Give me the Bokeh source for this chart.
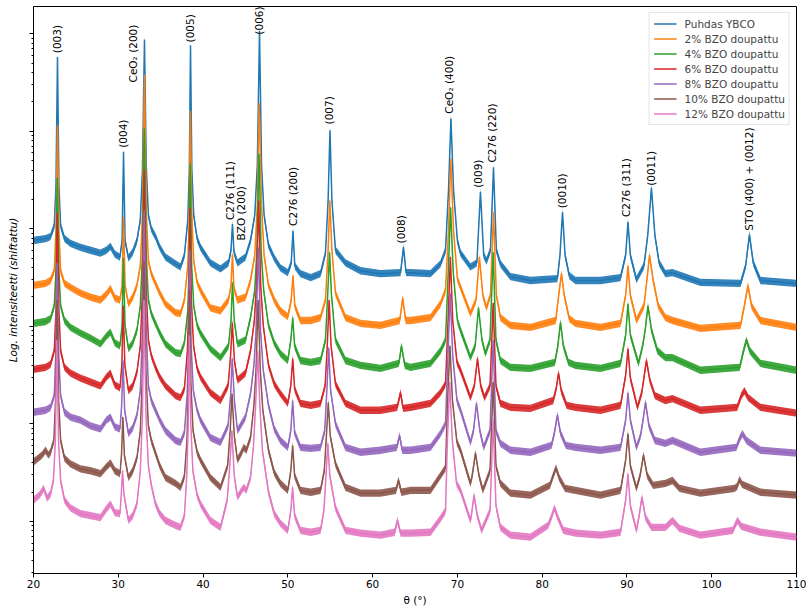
import numpy as np
from bokeh.plotting import figure
from bokeh.models import Range1d, FixedTicker, Legend, LegendItem
from bokeh.core.properties import value
from bokeh.embed import file_html
from bokeh.resources import INLINE

FONT = "DejaVu Sans"

# ---- data: 2-theta (deg) and log10 of shifted intensity ----
theta_0 = [20.0, 21.42, 22.0, 22.45, 22.65, 22.83, 23.0, 23.2, 23.66, 24.36, 25.54, 26.72, 27.9, 28.6, 29.08, 29.6, 30.2, 30.45, 30.62, 30.8, 31.2, 31.7, 32.2, 32.6, 32.85, 33.09, 33.3, 33.55, 33.9, 34.39, 34.9, 35.57, 36.75, 37.34, 37.8, 38.2, 38.38, 38.52, 38.68, 38.9, 39.3, 39.7, 40.87, 42.06, 43.0, 43.3, 43.47, 43.65, 44.06, 45.0, 45.6, 46.1, 46.4, 46.66, 46.9, 47.2, 47.72, 48.4, 49.13, 50.0, 50.4, 50.61, 50.82, 51.49, 52.7, 53.85, 54.44, 54.75, 54.97, 55.2, 55.62, 56.8, 58.57, 60.93, 63.3, 63.64, 63.95, 64.47, 66.83, 68.0, 68.6, 68.95, 69.24, 69.55, 70.0, 70.37, 71.54, 72.3, 72.72, 73.1, 73.43, 73.9, 74.26, 74.6, 75.08, 76.26, 78.62, 81.8, 82.1, 82.4, 82.7, 83.2, 83.93, 86.88, 89.24, 89.85, 90.12, 90.4, 91.12, 92.0, 92.45, 92.89, 93.3, 93.8, 94.54, 95.37, 98.67, 103.4, 104.0, 104.45, 104.9, 105.75, 110.0]
logI_0 = [2.88, 2.90, 2.92, 3.03, 3.44, 4.76, 3.44, 3.03, 2.90, 2.85,
          2.81, 2.78, 2.75, 2.78, 2.82, 2.74, 2.71, 2.88, 3.79, 2.88,
          2.70, 2.76, 2.88, 3.09, 3.60, 4.94, 3.65, 3.14, 3.00, 2.92,
          2.81, 2.71, 2.64, 2.61, 2.73, 3.09, 3.60, 4.88, 3.60, 3.14,
          2.90, 2.81, 2.65, 2.59, 2.65, 2.78, 3.05, 2.76, 2.65, 2.71,
          2.88, 3.14, 3.65, 5.03, 3.65, 3.14, 2.83, 2.70, 2.60, 2.55,
          2.65, 2.98, 2.62, 2.54, 2.50, 2.54, 2.75, 3.29, 4.01, 3.29,
          2.78, 2.65, 2.57, 2.54, 2.55, 2.81, 2.55, 2.55, 2.54, 2.64,
          2.78, 3.39, 4.13, 3.39, 2.88, 2.75, 2.61, 2.65, 3.38, 2.73,
          2.67, 2.78, 3.63, 2.78, 2.64, 2.51, 2.47, 2.49, 2.73, 3.17,
          2.73, 2.52, 2.47, 2.47, 2.50, 2.73, 3.07, 2.73, 2.48, 2.62,
          2.93, 3.42, 2.93, 2.65, 2.54, 2.55, 2.45, 2.44, 2.62, 2.94,
          2.65, 2.47, 2.44]

theta_2 = [20.0, 21.42, 22.0, 22.45, 22.65, 22.83, 23.0, 23.2, 23.66, 24.36, 25.54, 26.72, 27.9, 28.6, 29.08, 29.6, 30.2, 30.45, 30.62, 30.8, 31.2, 31.7, 32.2, 32.6, 32.85, 33.09, 33.3, 33.55, 33.9, 34.39, 34.9, 35.57, 36.75, 37.34, 37.8, 38.2, 38.38, 38.5, 38.68, 38.9, 39.3, 39.7, 40.87, 42.06, 43.0, 43.3, 43.47, 43.65, 44.06, 45.0, 45.6, 46.1, 46.4, 46.62, 46.9, 47.2, 47.72, 48.4, 49.13, 50.0, 50.4, 50.61, 50.82, 51.49, 52.7, 53.85, 54.44, 54.75, 54.95, 55.2, 55.62, 56.8, 58.57, 60.93, 63.2, 63.55, 63.9, 64.47, 66.83, 68.0, 68.6, 68.95, 69.22, 69.55, 70.0, 70.37, 71.54, 72.2, 72.6, 73.0, 73.43, 73.9, 74.26, 74.6, 75.08, 76.26, 78.62, 81.6, 81.95, 82.28, 82.6, 83.2, 83.93, 86.88, 89.24, 89.85, 90.12, 90.4, 91.12, 92.0, 92.35, 92.66, 93.1, 93.7, 94.54, 95.37, 98.67, 103.4, 103.85, 104.27, 104.7, 105.75, 110.0]
logI_2 = [2.42, 2.44, 2.47, 2.57, 2.98, 4.06, 2.98, 2.57, 2.44, 2.40,
          2.34, 2.30, 2.27, 2.33, 2.39, 2.29, 2.27, 2.42, 3.12, 2.42,
          2.23, 2.30, 2.42, 2.62, 3.14, 4.58, 3.19, 2.67, 2.54, 2.44,
          2.34, 2.23, 2.14, 2.13, 2.27, 2.62, 3.14, 4.21, 3.14, 2.67,
          2.45, 2.37, 2.19, 2.16, 2.27, 2.42, 2.74, 2.39, 2.27, 2.30,
          2.47, 2.73, 3.24, 4.29, 3.24, 2.73, 2.42, 2.27, 2.16, 2.10,
          2.27, 2.52, 2.21, 2.06, 2.06, 2.09, 2.27, 2.78, 3.29, 2.78,
          2.34, 2.09, 2.03, 2.01, 2.06, 2.29, 2.06, 2.06, 2.09, 2.23,
          2.37, 2.98, 3.72, 2.98, 2.49, 2.40, 2.13, 2.27, 2.71, 2.32,
          2.19, 2.32, 3.17, 2.32, 2.09, 2.01, 1.99, 2.06, 2.32, 2.54,
          2.32, 2.08, 2.03, 1.99, 2.03, 2.32, 2.62, 2.32, 2.06, 2.21,
          2.47, 2.73, 2.47, 2.21, 2.09, 2.06, 1.98, 2.01, 2.21, 2.42,
          2.21, 2.06, 1.99]

theta_4 = [20.0, 21.42, 22.0, 22.45, 22.65, 22.8, 23.0, 23.2, 23.66, 24.36, 25.54, 26.72, 27.9, 28.6, 29.08, 29.6, 30.2, 30.45, 30.6, 30.8, 31.2, 31.7, 32.2, 32.6, 32.85, 33.07, 33.3, 33.55, 33.9, 34.39, 34.9, 35.57, 36.75, 37.34, 37.8, 38.2, 38.36, 38.48, 38.66, 38.9, 39.3, 39.7, 40.87, 42.06, 43.0, 43.3, 43.47, 43.68, 44.06, 45.0, 45.6, 46.1, 46.35, 46.6, 46.85, 47.15, 47.72, 48.4, 49.13, 50.0, 50.35, 50.58, 50.8, 51.49, 52.7, 53.85, 54.44, 54.7, 54.92, 55.15, 55.62, 56.8, 58.57, 60.93, 63.1, 63.4, 63.8, 64.47, 66.83, 68.0, 68.6, 68.93, 69.2, 69.5, 70.0, 70.37, 71.54, 72.1, 72.49, 72.9, 73.3, 73.85, 74.22, 74.55, 75.08, 76.26, 78.62, 81.5, 81.85, 82.16, 82.5, 83.1, 83.93, 86.88, 89.24, 89.85, 90.12, 90.4, 91.36, 91.85, 92.15, 92.48, 92.9, 93.6, 94.54, 95.37, 98.67, 103.3, 103.75, 104.1, 104.5, 105.75, 110.0]
logI_4 = [2.03, 2.05, 2.08, 2.21, 2.57, 3.52, 2.57, 2.21, 2.06, 1.99,
          1.93, 1.88, 1.82, 1.90, 1.94, 1.83, 1.80, 2.01, 2.70, 2.01,
          1.77, 1.83, 1.96, 2.21, 2.73, 4.03, 2.73, 2.27, 2.13, 2.03,
          1.93, 1.82, 1.73, 1.72, 1.83, 2.16, 2.62, 3.67, 2.62, 2.21,
          2.01, 1.93, 1.77, 1.68, 1.80, 2.06, 2.45, 2.06, 1.82, 1.86,
          2.09, 2.37, 2.78, 3.77, 2.78, 2.37, 2.01, 1.83, 1.72, 1.65,
          1.86, 2.09, 1.80, 1.65, 1.63, 1.65, 1.86, 2.32, 2.76, 2.32,
          1.86, 1.65, 1.60, 1.57, 1.62, 1.80, 1.60, 1.58, 1.62, 1.75,
          1.86, 2.57, 3.22, 2.57, 2.06, 1.96, 1.68, 1.80, 2.19, 1.86,
          1.72, 1.86, 2.76, 1.86, 1.65, 1.58, 1.57, 1.63, 1.80, 2.04,
          1.80, 1.63, 1.60, 1.57, 1.62, 1.91, 2.23, 1.91, 1.62, 1.80,
          1.96, 2.21, 1.96, 1.75, 1.68, 1.68, 1.55, 1.58, 1.75, 1.86,
          1.75, 1.62, 1.55]

theta_6 = [20.0, 21.42, 22.0, 22.45, 22.65, 22.8, 23.0, 23.2, 23.66, 24.36, 25.54, 26.72, 27.9, 28.6, 29.08, 29.6, 30.2, 30.42, 30.58, 30.78, 31.2, 31.7, 32.2, 32.6, 32.85, 33.06, 33.3, 33.55, 33.9, 34.39, 34.9, 35.57, 36.75, 37.34, 37.8, 38.15, 38.33, 38.45, 38.62, 38.88, 39.3, 39.7, 40.87, 42.06, 42.95, 43.25, 43.45, 43.7, 44.06, 45.0, 45.6, 46.05, 46.3, 46.56, 46.8, 47.1, 47.72, 48.4, 49.13, 50.0, 50.35, 50.58, 50.8, 51.49, 52.7, 53.85, 54.4, 54.65, 54.87, 55.1, 55.62, 56.8, 58.57, 60.93, 62.9, 63.29, 63.6, 64.47, 66.83, 68.0, 68.6, 68.9, 69.17, 69.45, 69.95, 70.37, 71.54, 72.0, 72.37, 72.75, 73.2, 73.85, 74.22, 74.55, 75.08, 76.26, 78.62, 81.3, 81.65, 81.93, 82.25, 82.9, 83.93, 86.88, 89.24, 89.85, 90.12, 90.4, 91.24, 91.75, 92.05, 92.3, 92.7, 93.3, 94.54, 95.37, 98.67, 103.0, 103.5, 103.86, 104.3, 105.75, 110.0]
logI_6 = [1.56, 1.58, 1.61, 1.75, 2.16, 3.16, 2.16, 1.75, 1.58, 1.52,
          1.47, 1.43, 1.39, 1.48, 1.52, 1.40, 1.37, 1.60, 2.21, 1.60,
          1.34, 1.39, 1.53, 1.80, 2.37, 3.60, 2.37, 1.86, 1.70, 1.58,
          1.48, 1.39, 1.29, 1.27, 1.36, 1.75, 2.27, 3.21, 2.27, 1.80,
          1.57, 1.48, 1.32, 1.24, 1.39, 1.70, 2.04, 1.65, 1.45, 1.52,
          1.75, 2.06, 2.42, 3.29, 2.42, 2.01, 1.60, 1.41, 1.31, 1.21,
          1.39, 1.67, 1.36, 1.21, 1.19, 1.21, 1.39, 1.80, 2.27, 1.80,
          1.41, 1.21, 1.14, 1.14, 1.17, 1.32, 1.16, 1.17, 1.21, 1.32,
          1.41, 2.06, 2.71, 2.06, 1.63, 1.55, 1.27, 1.39, 1.67, 1.39,
          1.27, 1.39, 2.24, 1.39, 1.21, 1.17, 1.16, 1.24, 1.36, 1.52,
          1.34, 1.19, 1.17, 1.14, 1.19, 1.50, 1.77, 1.47, 1.17, 1.32,
          1.50, 1.65, 1.45, 1.29, 1.24, 1.26, 1.14, 1.17, 1.29, 1.34,
          1.27, 1.17, 1.11]

theta_8 = [20.0, 21.42, 22.0, 22.45, 22.62, 22.78, 22.98, 23.2, 23.66, 24.36, 25.54, 26.72, 27.9, 28.6, 29.08, 29.6, 30.2, 30.4, 30.56, 30.75, 31.2, 31.7, 32.2, 32.6, 32.85, 33.05, 33.3, 33.55, 33.9, 34.39, 34.9, 35.57, 36.75, 37.34, 37.8, 38.12, 38.3, 38.42, 38.6, 38.85, 39.3, 39.7, 40.87, 42.06, 42.95, 43.25, 43.44, 43.7, 44.06, 45.0, 45.6, 46.0, 46.25, 46.52, 46.78, 47.1, 47.72, 48.4, 49.13, 50.0, 50.35, 50.57, 50.8, 51.49, 52.7, 53.85, 54.35, 54.6, 54.82, 55.05, 55.62, 56.8, 58.57, 60.93, 62.85, 63.18, 63.5, 64.47, 66.83, 68.0, 68.6, 68.88, 69.15, 69.45, 69.95, 70.37, 71.54, 71.9, 72.25, 72.65, 73.1, 73.85, 74.22, 74.55, 75.08, 76.26, 78.62, 81.1, 81.45, 81.8, 82.15, 82.8, 83.93, 86.88, 89.24, 89.85, 90.12, 90.4, 91.12, 91.6, 91.9, 92.19, 92.6, 93.3, 94.54, 95.37, 98.67, 102.9, 103.35, 103.63, 104.1, 105.75, 110.0]
logI_8 = [1.12, 1.14, 1.17, 1.29, 1.70, 2.65, 1.70, 1.29, 1.12, 1.07,
          1.04, 0.98, 0.95, 1.04, 1.07, 0.97, 0.95, 1.19, 1.65, 1.14,
          0.90, 0.96, 1.09, 1.34, 1.96, 3.19, 1.96, 1.39, 1.24, 1.14,
          1.04, 0.93, 0.83, 0.81, 0.91, 1.29, 1.80, 2.78, 1.80, 1.34,
          1.14, 1.04, 0.86, 0.81, 0.98, 1.29, 1.67, 1.24, 0.93, 1.07,
          1.31, 1.60, 1.96, 2.81, 1.96, 1.55, 1.19, 0.95, 0.83, 0.76,
          0.93, 1.24, 0.91, 0.76, 0.75, 0.76, 0.93, 1.34, 1.78, 1.34,
          1.00, 0.76, 0.71, 0.73, 0.76, 0.88, 0.73, 0.73, 0.76, 0.90,
          1.00, 1.70, 2.34, 1.70, 1.24, 1.14, 0.81, 0.93, 1.21, 0.93,
          0.76, 0.93, 1.86, 0.93, 0.80, 0.73, 0.71, 0.78, 0.91, 1.09,
          0.91, 0.78, 0.76, 0.73, 0.76, 1.04, 1.32, 1.04, 0.76, 0.88,
          1.04, 1.22, 0.98, 0.83, 0.80, 0.83, 0.71, 0.76, 0.86, 0.90,
          0.83, 0.73, 0.70]

theta_10 = [20.0, 21.0, 21.42, 21.77, 22.0, 22.4, 22.6, 22.77, 22.97, 23.2, 23.66, 24.36, 25.54, 26.72, 27.9, 28.6, 29.08, 29.6, 30.2, 30.38, 30.54, 30.72, 31.2, 31.7, 32.2, 32.6, 32.85, 33.04, 33.28, 33.55, 33.9, 34.39, 34.9, 35.57, 36.75, 37.34, 37.8, 38.1, 38.27, 38.4, 38.58, 38.82, 39.3, 39.7, 40.87, 42.06, 42.9, 43.2, 43.42, 43.68, 44.06, 44.55, 44.8, 45.1, 45.6, 46.0, 46.25, 46.5, 46.75, 47.05, 47.72, 48.4, 49.13, 50.0, 50.35, 50.57, 50.8, 51.49, 52.7, 53.85, 54.3, 54.55, 54.77, 55.0, 55.62, 56.8, 58.57, 60.93, 62.75, 63.05, 63.4, 64.47, 66.83, 68.0, 68.6, 68.85, 69.12, 69.42, 69.95, 70.37, 71.54, 71.75, 72.13, 72.55, 73.0, 73.85, 74.22, 74.55, 75.08, 76.26, 78.62, 80.9, 81.3, 81.63, 82.0, 82.7, 83.93, 86.88, 89.24, 89.85, 90.12, 90.4, 91.12, 91.55, 91.95, 92.4, 93.1, 94.54, 95.37, 96.2, 98.67, 102.7, 103.0, 103.27, 103.6, 105.75, 110.0]
logI_10 = [0.61, 0.68, 0.73, 0.68, 0.71, 0.83, 1.24, 2.27, 1.24, 0.83,
           0.65, 0.59, 0.54, 0.52, 0.49, 0.56, 0.60, 0.52, 0.49, 0.68,
           1.07, 0.68, 0.45, 0.52, 0.65, 0.93, 1.50, 2.67, 1.50, 0.98,
           0.83, 0.70, 0.57, 0.45, 0.39, 0.35, 0.46, 0.83, 1.39, 2.37,
           1.39, 0.93, 0.71, 0.63, 0.45, 0.35, 0.57, 0.93, 1.31, 0.88,
           0.63, 0.71, 0.76, 0.73, 0.86, 1.19, 1.55, 2.27, 1.55, 1.14,
           0.73, 0.50, 0.39, 0.32, 0.52, 0.78, 0.47, 0.32, 0.30, 0.32,
           0.52, 0.88, 1.22, 0.88, 0.59, 0.35, 0.29, 0.29, 0.32, 0.42,
           0.30, 0.32, 0.32, 0.47, 0.55, 1.24, 1.80, 1.24, 0.81, 0.73,
           0.39, 0.47, 0.70, 0.47, 0.32, 0.52, 1.43, 0.57, 0.39, 0.29,
           0.27, 0.37, 0.47, 0.55, 0.45, 0.34, 0.32, 0.27, 0.32, 0.63,
           0.90, 0.57, 0.34, 0.47, 0.68, 0.47, 0.37, 0.39, 0.42, 0.34,
           0.29, 0.34, 0.36, 0.43, 0.38, 0.30, 0.27]

theta_12 = [20.0, 20.7, 21.2, 21.6, 22.0, 22.35, 22.58, 22.75, 22.95, 23.2, 23.66, 24.36, 25.54, 26.72, 27.9, 28.6, 29.08, 29.6, 30.2, 30.35, 30.5, 30.68, 31.2, 31.7, 32.2, 32.6, 32.85, 33.03, 33.27, 33.55, 33.9, 34.39, 34.9, 35.57, 36.75, 37.34, 37.8, 38.08, 38.25, 38.38, 38.56, 38.8, 39.3, 39.7, 40.87, 42.06, 42.85, 43.15, 43.4, 43.68, 44.06, 44.55, 44.8, 45.1, 45.6, 45.95, 46.2, 46.45, 46.7, 47.0, 47.72, 48.4, 49.13, 50.0, 50.35, 50.56, 50.8, 51.49, 52.7, 53.85, 54.25, 54.5, 54.72, 54.95, 55.62, 56.8, 58.57, 60.93, 62.6, 62.93, 63.3, 64.47, 66.83, 68.0, 68.6, 68.82, 69.1, 69.4, 69.9, 70.37, 71.54, 71.65, 71.96, 72.35, 72.85, 73.85, 74.22, 74.55, 75.08, 76.26, 78.62, 80.7, 81.15, 81.45, 81.85, 82.5, 83.93, 86.88, 89.24, 89.85, 90.12, 90.4, 91.12, 91.4, 91.77, 92.2, 92.9, 94.54, 95.37, 96.2, 98.67, 102.5, 102.8, 103.04, 103.5, 105.75, 110.0]
logI_12 = [0.22, 0.27, 0.34, 0.24, 0.28, 0.42, 0.83, 1.86, 0.83, 0.42,
           0.22, 0.14, 0.08, 0.06, 0.04, 0.13, 0.18, 0.09, 0.08, 0.27,
           0.52, 0.27, 0.01, 0.06, 0.18, 0.52, 1.09, 2.27, 1.09, 0.57,
           0.37, 0.18, 0.08, 0.01, -0.04, -0.06, 0.06, 0.47, 0.98, 1.91,
           0.98, 0.52, 0.27, 0.18, 0.01, -0.06, 0.22, 0.57, 0.93, 0.47,
           0.25, 0.32, 0.35, 0.32, 0.45, 0.78, 1.19, 1.75, 1.19, 0.73,
           0.30, 0.08, -0.02, -0.09, 0.11, 0.35, 0.06, -0.09, -0.11, -0.09,
           0.11, 0.47, 0.80, 0.47, 0.14, -0.09, -0.12, -0.14, -0.11, 0.01,
           -0.12, -0.12, -0.11, 0.03, 0.11, 0.83, 1.43, 0.83, 0.39, 0.32,
           0.01, 0.06, 0.27, 0.06, -0.09, 0.11, 1.04, 0.16, -0.06, -0.14,
           -0.16, -0.04, 0.06, 0.14, 0.04, -0.09, -0.12, -0.14, -0.11, 0.22,
           0.49, 0.16, -0.09, 0.04, 0.25, 0.04, -0.06, -0.06, 0.01, -0.07,
           -0.14, -0.09, -0.03, 0.01, -0.05, -0.11, -0.16]

series_names = ["Puhdas YBCO", "2% BZO doupattu", "4% BZO doupattu", "6% BZO doupattu",
                "8% BZO doupattu", "10% BZO doupattu", "12% BZO doupattu"]
series_theta = [theta_0, theta_2, theta_4, theta_6, theta_8, theta_10, theta_12]
series_logI = [logI_0, logI_2, logI_4, logI_6, logI_8, logI_10, logI_12]
colors = ["#1f77b4", "#ff7f0e", "#2ca02c", "#d62728", "#9467bd", "#8c564b", "#e377c2"]

# peak annotations: text, theta of label, log10 intensity at the label's lower end
peak_text = ["(003)", "(004)", "CeO\u2082 (200)", "(005)", "C276 (111)", "BZO (200)", "(006)",
             "C276 (200)", "(007)", "(008)", "CeO\u2082 (400)", "(009)", "C276 (220)",
             "(0010)", "C276 (311)", "(0011)", "STO (400) + (0012)"]
peak_theta = [22.83, 30.58, 31.76, 38.44, 43.12, 44.53, 46.57, 50.59, 54.88, 63.37,
              68.99, 72.41, 74.06, 82.36, 89.91, 92.78, 104.37]
peak_logI = [4.80, 3.83, 4.50, 4.91, 3.09, 2.88, 4.99, 3.03, 4.07, 2.85,
             4.18, 3.42, 3.68, 3.21, 3.12, 3.44, 2.98]

x_ticks = [20, 30, 40, 50, 60, 70, 80, 90, 100, 110]
y_decades = [1.0, 10.0, 100.0, 1000.0, 10000.0, 100000.0]

for t, l in zip(series_theta, series_logI):
    assert len(t) == len(l), (len(t), len(l))

p = figure(width=806, height=610, output_backend="svg", toolbar_location=None,
           x_range=Range1d(20, 110), y_range=Range1d(10 ** -0.533, 10 ** 5.2785),
           y_axis_type="log",
           min_border_left=33, min_border_right=10, min_border_top=6, min_border_bottom=37)
p.background_fill_color = "white"
p.border_fill_color = "white"
p.xgrid.visible = False
p.ygrid.visible = False
p.outline_line_color = "black"
p.outline_line_width = 1

items = []
for name, t, l, c in zip(series_names, series_theta, series_logI, colors):
    inten = 10 ** np.array(l)
    p.varea(x=t, y1=inten / 1.09, y2=inten * 1.09, fill_color=c, fill_alpha=0.9)
    r = p.line(t, inten, line_color=c, line_width=1.5)
    items.append(LegendItem(label=name, renderers=[r]))

p.text(x=peak_theta, y=[10 ** v for v in peak_logI], text=peak_text, angle=np.pi / 2,
       text_align="left", text_baseline="middle", text_font=value(FONT),
       text_font_size="10.5px", text_color="black")

# axes
minor = []
for k in range(-1, 6):
    for m in range(2, 10):
        minor.append(m * 10.0 ** k)
p.yaxis.ticker = FixedTicker(ticks=y_decades, minor_ticks=minor)
p.yaxis.major_label_overrides = {d: "" for d in y_decades}
p.yaxis.major_tick_out = 4
p.yaxis.major_tick_in = 0
p.yaxis.minor_tick_out = 2
p.yaxis.minor_tick_in = 0
p.yaxis.minor_tick_line_color = "black"
p.yaxis.major_label_standoff = 5
p.yaxis.axis_label = "Log. intensiteetti (shiftattu)"
p.yaxis.axis_label_text_font_style = "italic"
p.yaxis.axis_label_standoff = 11

p.xaxis.ticker = FixedTicker(ticks=x_ticks)
p.xaxis.minor_tick_line_color = None
p.xaxis.major_tick_out = 4
p.xaxis.major_tick_in = 0
p.xaxis.major_label_standoff = 2
p.xaxis.axis_label = "\u03b8 (\u00b0)"
p.xaxis.axis_label_text_font_style = "normal"
p.xaxis.axis_label_standoff = 3

for ax in (p.xaxis, p.yaxis):
    ax.axis_line_color = "black"
    ax.major_tick_line_color = "black"
    ax.major_label_text_font = FONT
    ax.major_label_text_color = "black"
    ax.major_label_text_font_size = "10.5px"
    ax.axis_label_text_font = FONT
    ax.axis_label_text_font_size = "10.5px"
    ax.axis_label_text_color = "black"

legend = Legend(items=items, location="top_right", label_text_font=FONT, label_text_font_size="10.5px",
                glyph_width=23, glyph_height=13, label_height=13, label_standoff=8, spacing=2,
                padding=4, margin=6, border_line_color="#cccccc", border_line_width=1,
                background_fill_alpha=0.8)
p.add_layout(legend)

open("out.html", "w").write(file_html(p, INLINE))
